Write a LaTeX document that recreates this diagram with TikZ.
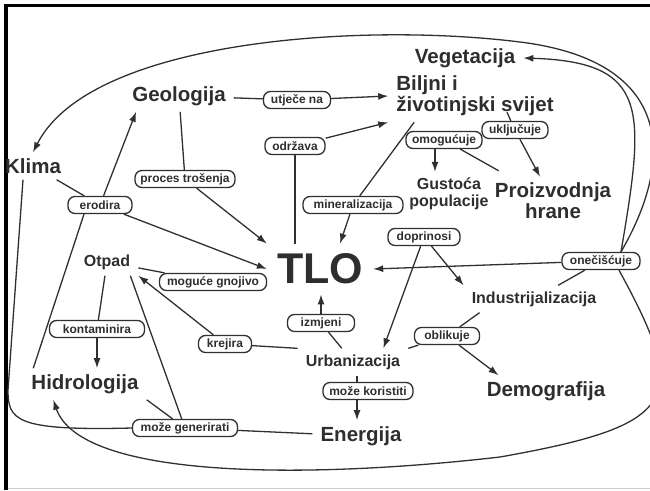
\documentclass[tikz,border=0pt]{standalone}
\usepackage{fontspec}
\setmainfont{Liberation Sans}
\usetikzlibrary{arrows.meta}

\definecolor{txt}{HTML}{2E2E2E}
\definecolor{linec}{HTML}{303030}

\tikzset{
  concept/.style={font=\bfseries\fontsize{20.5}{21}\selectfont, text=txt,
    inner xsep=8pt, inner ysep=6pt, align=left},
  smallconcept/.style={concept, font=\bfseries\fontsize{16}{17}\selectfont, align=center},
  link/.style={draw=linec, line width=1.3pt, rounded corners=7pt, fill=white, text=txt,
    font=\bfseries\fontsize{12}{13}\selectfont, inner xsep=4pt, inner ysep=2pt,
    minimum height=17pt},
  conn/.style={draw=linec, line width=1.3pt},
  arr/.style={conn, -{Latex[length=10pt,width=7pt]}},
}

\begin{document}
\begin{tikzpicture}[x=1pt, y=-1pt]
  \useasboundingbox (0,0) rectangle (650,490);
  \clip (0,0) rectangle (650,490);

  % okvir
  \draw[black, line width=3.5pt] (6,490) -- (6,5.5) -- (650,5.5);
  \draw[black!20, line width=1.5pt] (8,488.5) -- (650,488.5);

  % pojmovi
  \node[concept] (veg) at (465,58) {Vegetacija};
  \node[concept] (bio) at (475,96) {Biljni i\\životinjski svijet};
  \node[concept] (geo) at (179,96) {Geologija};
  \node[concept] (klima) at (33,166) {Klima};
  \node[smallconcept] (gust) at (449,194) {Gustoća\\populacije};
  \node[concept, align=center] (proiz) at (553,201) {Proizvodnja\\hrane};
  \node[concept, font=\bfseries\fontsize{43}{43}\selectfont, inner sep=10pt] (tlo) at (320,269) {TLO};
  \node[smallconcept] (otpad) at (107,262) {Otpad};
  \node[smallconcept] (ind) at (534,299) {Industrijalizacija};
  \node[smallconcept] (urb) at (353,362) {Urbanizacija};
  \node[concept] (demo) at (546,391) {Demografija};
  \node[concept] (hidro) at (85,384) {Hidrologija};
  \node[concept] (energ) at (361,436) {Energija};

  % poveznice
  \node[link, minimum width=67pt] (ut) at (297,100) {utječe na};
  \node[link, minimum width=60pt] (odr) at (295,146) {održava};
  \node[link, minimum width=100pt] (pt) at (185,179) {proces trošenja};
  \node[link, minimum width=64pt] (er) at (100,205) {erodira};
  \node[link, minimum width=100pt] (mineral) at (353,205) {mineralizacija};
  \node[link, minimum width=76pt] (omo) at (444,140) {omogućuje};
  \node[link, minimum width=66pt] (ukl) at (515,130) {uključuje};
  \node[link, minimum width=72pt] (dop) at (424,237) {doprinosi};
  \node[link, minimum width=78pt] (one) at (601,261) {onečišćuje};
  \node[link, minimum width=107pt] (mog) at (213,282) {moguće gnojivo};
  \node[link, minimum width=95pt] (kon) at (97,329) {kontaminira};
  \node[link, minimum width=53pt] (kre) at (225,344) {krejira};
  \node[link, minimum width=67pt] (izm) at (321,323) {izmjeni};
  \node[link, minimum width=65pt] (obl) at (447,336) {oblikuje};
  \node[link, minimum width=90pt] (mk) at (368,391) {može koristiti};
  \node[link, minimum width=105pt] (mg) at (185,428) {može generirati};

  % veze gore
  \draw[conn] (geo) -- (ut);
  \draw[arr] (ut) -- (bio.west);
  \draw[conn] (tlo.north -| odr) -- (odr);
  \draw[arr] (odr) -- (bio.south west);
  \draw[conn] (geo) -- (pt);
  \draw[arr] (pt) -- (tlo.north west);
  \draw[conn] (klima) -- (er);
  \draw[conn] ([xshift=10pt]hidro.north west) -- ([xshift=-16pt]er.south);
  \draw[arr] (er) -- ([xshift=12pt]geo.south west);
  \draw[arr] (er) -- (tlo.west);
  \draw[conn] ([xshift=26pt]bio.south west) -- (mineral);
  \draw[arr] (mineral) -- ([xshift=20pt]tlo.north);
  \draw[conn] ([xshift=32pt,yshift=10pt]bio.south) -- (ukl);
  \draw[arr] (ukl) -- (proiz);
  \draw[conn] ([xshift=12pt,yshift=6pt]proiz.north west) -- (omo);
  \draw[arr] ([xshift=-9pt]omo.south) -- ([xshift=-9pt]omo.south |- gust.north);

  % veze desno
  \draw[arr] (dop) -- ([xshift=-25pt]urb.north east);
  \draw[arr] (dop) -- (ind.north west);
  \draw[conn] (ind) -- (one);
  \draw[arr] (one) -- (tlo.east);
  \draw[arr] ([xshift=20pt]one.north) .. controls (645,110) and (650,62) .. (veg.east);
  \draw[arr] ([xshift=20pt]one.north) .. controls (680,150) and (665,60) .. (520,42)
    .. controls (360,22) and (90,40) .. (klima.north);
  \draw[arr] ([xshift=18pt]one.south) .. controls (690,400) and (680,425) .. (500,457)
    .. controls (300,480) and (80,478) .. ([xshift=30pt]hidro.south west);

  % veze dolje
  \draw[conn] (urb) -- (izm);
  \draw[arr] (izm) -- (izm |- tlo.south);
  \draw[conn] ([xshift=16pt]ind.south west) -- (obl);
  \draw[conn] (urb.north east) -- (obl);
  \draw[arr] (obl) -- ([xshift=20pt]demo.north west);
  \draw[conn] (urb.north west) -- (kre);
  \draw[arr] (kre) -- (otpad.south east);
  \draw[conn] (otpad) -- (mog);
  \draw[conn] (otpad) -- (kon);
  \draw[arr] (kon) -- (kon |- hidro.north);
  \draw[conn] ([xshift=4pt]urb.south) -- ([xshift=4pt]urb.south |- mk.north);
  \draw[arr] ([xshift=4pt]urb.south |- mk.south) -- ([xshift=4pt]urb.south |- energ.north);
  \draw[conn] (energ) -- (mg);
  \draw[conn] (mg) -- (hidro.south east);
  \draw[conn] (mg) -- ([xshift=-8pt]otpad.south east);
  \draw[conn] (mg.west) .. controls (15,431) and (8,420) .. (8,390) -- ([xshift=-10pt]klima.south);
\end{tikzpicture}
\end{document}
